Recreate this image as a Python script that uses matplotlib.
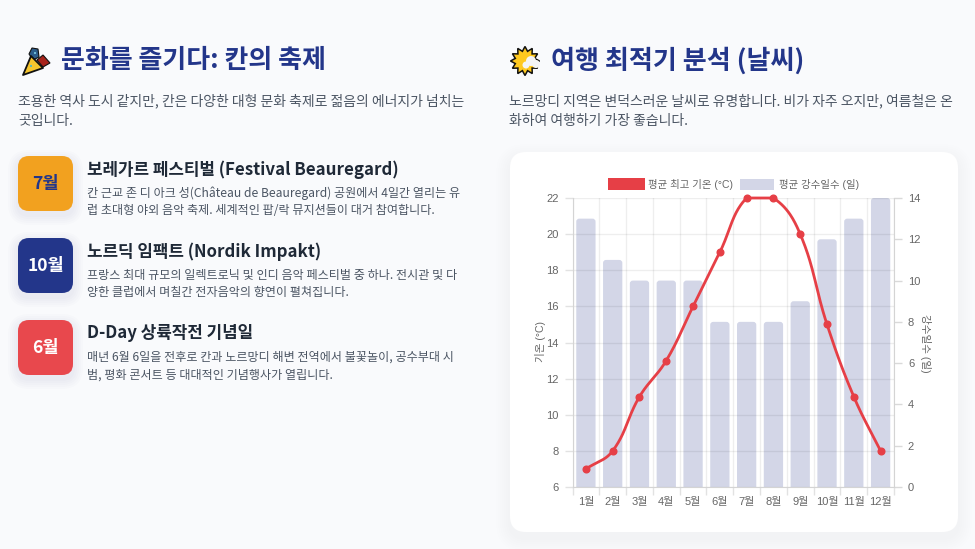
import numpy as np
import matplotlib
matplotlib.use("Agg")
import matplotlib.pyplot as plt
from matplotlib.patches import FancyBboxPatch, Polygon, Circle, Rectangle
from matplotlib.transforms import IdentityTransform

months = ["1월","2월","3월","4월","5월","6월","7월","8월","9월","10월","11월","12월"]
temp_high = [7, 8, 11, 13, 16, 19, 22, 22, 20, 15, 11, 8]
rain_days = [13, 11, 10, 10, 10, 8, 8, 8, 9, 12, 13, 14]
temp_ticks = list(range(6, 23, 2))
rain_ticks = list(range(0, 15, 2))

head_left = "문화를 즐기다: 칸의 축제"
head_right = "여행 최적기 분석 (날씨)"
intro_left = ["조용한 역사 도시 같지만, 칸은 다양한 대형 문화 축제로 젊음의 에너지가 넘치는", "곳입니다."]
intro_right = ["노르망디 지역은 변덕스러운 날씨로 유명합니다. 비가 자주 오지만, 여름철은 온", "화하여 여행하기 가장 좋습니다."]
badges = ["7월", "10월", "6월"]
titles = ["보레가르 페스티벌 (Festival Beauregard)", "노르딕 임팩트 (Nordik Impakt)", "D-Day 상륙작전 기념일"]
descs = [["칸 근교 존 디 아크 성(Château de Beauregard) 공원에서 4일간 열리는 유", "럽 초대형 야외 음악 축제. 세계적인 팝/락 뮤지션들이 대거 참여합니다."],
         ["프랑스 최대 규모의 일렉트로닉 및 인디 음악 페스티벌 중 하나. 전시관 및 다", "양한 클럽에서 며칠간 전자음악의 향연이 펼쳐집니다."],
         ["매년 6월 6일을 전후로 칸과 노르망디 해변 전역에서 불꽃놀이, 공수부대 시", "범, 평화 콘서트 등 대대적인 기념행사가 열립니다."]]
series_names = ["평균 최고 기온 (°C)", "평균 강수일수 (일)"]
axis_left = "기온 (°C)"
axis_right = "강수일수 (일)"

BG = "#F9FAFC"; NAVY = "#23368A"; BODY = "#4B5563"; DARK = "#1F2937"
ORANGE = "#F2A11F"; RED = "#E8484D"; LINE = "#E63F46"; BAR = (35/255, 54/255, 138/255, 0.2)
KR = ["Noto Sans CJK KR", "DejaVu Sans"]
AR = ["Liberation Sans", "Noto Sans CJK KR"]
W, H = 975, 549

fig = plt.figure(figsize=(W/100, H/100), dpi=100, facecolor=BG)
bg = fig.add_axes([0, 0, 1, 1], zorder=0)
bg.set_xlim(0, W); bg.set_ylim(H, 0); bg.axis("off")

def rbox(x0, y0, x1, y1, r, color, z=1, alpha=1.0):
    p = FancyBboxPatch((x0+r, y0+r), x1-x0-2*r, y1-y0-2*r, boxstyle=f"round,pad={r},rounding_size={r}",
                       fc=color, ec="none", alpha=alpha, zorder=z)
    bg.add_patch(p)

def shadow(x0, y0, x1, y1, r, dy, spread, a):
    for i in range(spread, 0, -2):
        rbox(x0-i, y0-i+dy, x1+i, y1+i+dy, r+i, "#334155", z=1, alpha=a)

# texts
bg.text(61, 61, head_left, family=KR, fontsize=18.7, weight="bold", color=NAVY, va="center", zorder=3)
bg.text(551, 61, head_right, family=KR, fontsize=18.75, weight="bold", color=NAVY, va="center", zorder=3)
for i, s in enumerate(intro_left):
    bg.text(18, 100.5 + 20*i, s, family=KR, fontsize=10.0, color=BODY, va="center", zorder=3)
for i, s in enumerate(intro_right):
    bg.text(509, 100.5 + 20*i, s, family=KR, fontsize=10.0, color=BODY, va="center", zorder=3)

badge_cols = [ORANGE, NAVY, RED]
badge_txt = [NAVY, "white", "white"]
tops = [156, 238, 320]
for k in range(3):
    t = tops[k]
    shadow(18, t, 73, t+55, 11, 4, 10, 0.010)
    rbox(18, t, 73, t+55, 11, badge_cols[k], z=2)
    bg.text(45.5, t+28.5, badges[k], family=KR, fontsize=12.6, weight="bold", color=badge_txt[k],
            ha="center", va="center", zorder=3)
    bg.text(87, t+13.5, titles[k], family=KR, fontsize=12.15, weight="bold", color=DARK, va="center", zorder=3)
    for j, s in enumerate(descs[k]):
        bg.text(87, t+37.2+j*17.7, s, family=KR, fontsize=8.7, color=BODY, va="center", zorder=3)

# card
shadow(510, 152, 958, 532, 16, 6, 14, 0.0035)
rbox(510, 152, 958, 532, 16, "white", z=2)

# emoji: party popper
bg.add_patch(Polygon([(23, 75), (31, 56), (43, 68)], closed=True, fc="#F6C52E", ec="#111", lw=1.3, zorder=4, joinstyle="round"))
bg.add_patch(Polygon([(29, 54), (32, 48), (38, 49), (39, 57), (33, 60)], closed=True, fc="#2B5C8A", ec="#111", lw=0.8, zorder=3.5))
bg.add_patch(Polygon([(37, 60), (43, 55), (50, 63), (43, 67)], closed=True, fc="#A8241C", ec="#111", lw=0.8, zorder=3.5))
bg.add_patch(Circle((31, 66), 1, fc="#3BB5D8", ec="none", zorder=5))
bg.add_patch(Circle((35, 53), 1, fc="#7ED0E8", ec="none", zorder=5))
# emoji: sun behind cloud
ang = np.linspace(0, 2*np.pi, 25)[:-1]
rad = np.where(np.arange(24) % 2 == 0, 14.5, 10.0)
bg.add_patch(Polygon(np.c_[525 + rad*np.cos(ang), 61 + rad*np.sin(ang)], closed=True, fc="#FFC91F", ec="#111", lw=1.1, zorder=3.5))
for cx, cy, r, c in [(531, 61, 5, "#F4F4F4"), (526, 65, 3.5, "#F4F4F4"), (536, 64, 4, "#F4F4F4")]:
    bg.add_patch(Circle((cx, cy), r, fc=c, ec="none", zorder=4))

# chart legend
bg.add_patch(Rectangle((608, 178), 37, 12, fc=LINE, ec="none", zorder=3))
bg.text(648, 184, series_names[0], family=AR, fontsize=7.5, color="#666666", va="center", zorder=3)
bg.add_patch(Rectangle((740, 179), 34, 11, fc=BAR, ec="none", zorder=3))
bg.text(779, 184, series_names[1], family=AR, fontsize=7.5, color="#666666", va="center", zorder=3)

# chart axes
L, R, T, B = 572.5, 894, 198, 487
pos = [L/W, 1-B/H, (R-L)/W, (B-T)/H]
ax_r = fig.add_axes(pos, zorder=2, facecolor="none")
ax = fig.add_axes(pos, zorder=3, facecolor="none")
x = np.arange(len(months))
for a in (ax, ax_r):
    a.set_xlim(-0.5, len(months)-0.5)
    for s in a.spines.values():
        s.set_visible(False)

ax_r.set_ylim(rain_ticks[0], rain_ticks[-1])
bars = ax_r.bar(x, rain_days, width=0.72, color=BAR, linewidth=0)
ax_r.yaxis.tick_right()
ax_r.set_yticks(rain_ticks)
ax_r.tick_params(axis="y", length=6, width=1, color="#D9D9D9", labelcolor="#666666", pad=4)
ax_r.set_xticks([])
ax_r.spines["right"].set_visible(True); ax_r.spines["right"].set_color("#D4D4D4")
for t_ in ax_r.get_yticklabels():
    t_.set_family(AR); t_.set_fontsize(8)

ax.set_ylim(temp_ticks[0], temp_ticks[-1])
ax.set_yticks(temp_ticks)
ax.set_xticks(np.arange(len(months)+1) - 0.5)
ax.set_xticklabels([])
ax.set_xticks(x, minor=True)
ax.set_xticklabels(months, minor=True, family=AR, fontsize=8, color="#666666")
ax.tick_params(axis="x", which="major", length=6, width=1, color="#E2E2E2")
ax.tick_params(axis="x", which="minor", length=0, pad=7)
ax.tick_params(axis="y", length=6, width=1, color="#E2E2E2", labelcolor="#666666", pad=4)
for t_ in ax.get_yticklabels():
    t_.set_family(AR); t_.set_fontsize(8)
ax.grid(True, which="major", color="#000000", alpha=0.065, lw=1)
ax.set_axisbelow(True)
ax.spines["left"].set_visible(True); ax.spines["left"].set_color("#D4D4D4")
ax.spines["bottom"].set_visible(True); ax.spines["bottom"].set_color("#D4D4D4")

fig.canvas.draw()

# round the top corners of the bars (square at the baseline: the lower corners fall outside the clip)
for b in bars:
    e = b.get_window_extent()
    r = 3
    rp = FancyBboxPatch((e.x0+r, e.y0-10), e.width-2*r, e.height+10-r, boxstyle=f"round,pad={r},rounding_size={r}",
                        fc=BAR, ec="none", transform=IdentityTransform())
    ax_r.add_artist(rp)
    rp.set_clip_path(ax_r.patch)
    b.set_visible(False)

# chart.js style spline (tension 0.4), computed in pixel space and capped to the plot area
pts = ax.transData.transform(np.c_[x, temp_high])
tension = 0.4
ymin, ymax = ax.transData.transform([(0, temp_ticks[0]), (0, temp_ticks[-1])])[:, 1]
prev_cp, next_cp = [], []
for i in range(len(pts)):
    p0 = pts[max(i-1, 0)]; p1 = pts[i]; p2 = pts[min(i+1, len(pts)-1)]
    d01 = np.hypot(*(p1-p0)); d12 = np.hypot(*(p2-p1))
    tot = max(d01+d12, 1e-9)
    prev_cp.append(p1 - tension*d01/tot*(p2-p0))
    next_cp.append(p1 + tension*d12/tot*(p2-p0))
curve = []
u = np.linspace(0, 1, 40)[:, None]
for i in range(len(pts)-1):
    a0, a1 = pts[i], np.array(next_cp[i]); a2, a3 = np.array(prev_cp[i+1]), pts[i+1]
    a1 = np.array([a1[0], np.clip(a1[1], ymin, ymax)]); a2 = np.array([a2[0], np.clip(a2[1], ymin, ymax)])
    curve.append((1-u)**3*a0 + 3*(1-u)**2*u*a1 + 3*(1-u)*u**2*a2 + u**3*a3)
curve = ax.transData.inverted().transform(np.vstack(curve))
ax.plot(curve[:, 0], curve[:, 1], color=LINE, lw=2.0, clip_on=False, zorder=5, solid_capstyle="round")
ax.plot(x, temp_high, ls="none", marker="o", ms=4.8, mfc=LINE, mec=LINE, clip_on=False, zorder=6)

bg.text(540, 342, axis_left, family=AR, fontsize=7.6, color="#666666", rotation=90, ha="center", va="center", zorder=3)
bg.text(926, 343, axis_right, family=AR, fontsize=7.6, color="#666666", rotation=-90, ha="center", va="center", zorder=3)

fig.savefig("out.png", dpi=100, facecolor=BG)
